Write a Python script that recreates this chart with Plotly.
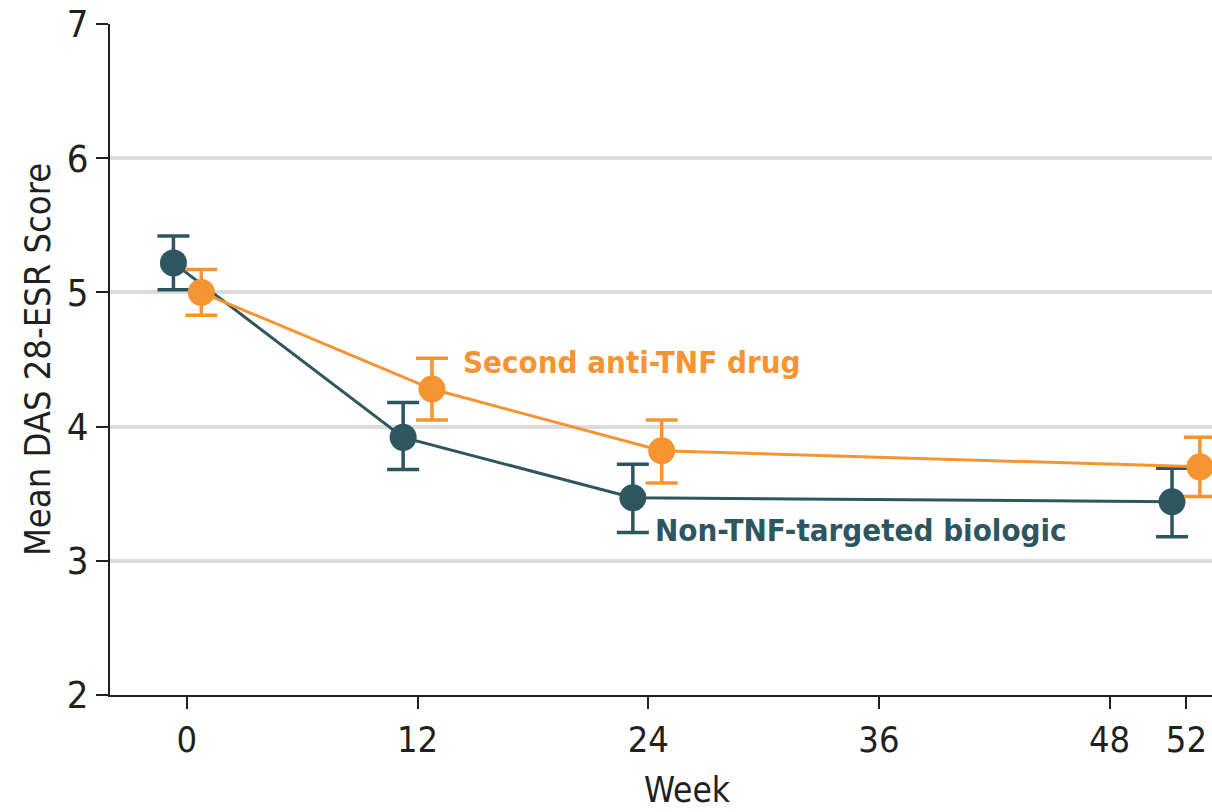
import plotly.graph_objects as go

# Non-TNF-targeted biologic (dark), plotted slightly left of each week
weeks_non_tnf = [-0.7, 11.25, 23.2, 51.25]
das_non_tnf = [5.22, 3.92, 3.47, 3.44]
err_up_non_tnf = [0.20, 0.26, 0.25, 0.25]
err_down_non_tnf = [0.20, 0.24, 0.26, 0.26]

# Second anti-TNF drug (orange), plotted slightly right of each week
weeks_anti_tnf = [0.75, 12.75, 24.7, 52.7]
das_anti_tnf = [5.00, 4.28, 3.82, 3.70]
err_up_anti_tnf = [0.17, 0.23, 0.23, 0.22]
err_down_anti_tnf = [0.17, 0.23, 0.24, 0.22]

week_ticks = [0, 12, 24, 36, 48, 52]
score_ticks = [2, 3, 4, 5, 6, 7]

DARK = '#2E5661'
ORANGE = '#F69431'
TEXT = '#231F20'
FONT = 'DejaVu Sans Condensed, Liberation Sans Narrow, sans-serif'


def series(x, y, up, down, color, name):
    return go.Scatter(
        x=x, y=y, name=name, mode='lines+markers',
        line=dict(color=color, width=3),
        marker=dict(symbol='circle', size=27, color=color),
        error_y=dict(type='data', symmetric=False, array=up, arrayminus=down,
                     color=color, thickness=3.5, width=16),
        showlegend=False, cliponaxis=False,
    )


fig = go.Figure()
fig.add_trace(series(weeks_non_tnf, das_non_tnf, err_up_non_tnf, err_down_non_tnf, DARK,
                     'Non-TNF-targeted biologic'))
fig.add_trace(series(weeks_anti_tnf, das_anti_tnf, err_up_anti_tnf, err_down_anti_tnf, ORANGE,
                     'Second anti-TNF drug'))

fig.add_annotation(x=14.25, y=4.48, text='<b>Second anti-TNF drug</b>', showarrow=False,
                   xanchor='left', yanchor='middle', font=dict(size=31, color=ORANGE, family=FONT))
fig.add_annotation(x=24.25, y=3.23, text='<b>Non-TNF-targeted biologic</b>', showarrow=False,
                   xanchor='left', yanchor='middle', font=dict(size=31, color=DARK, family=FONT))
# x-axis title sits a bit right of centre in the original
fig.add_annotation(x=0.5245, y=-0.142, xref='paper', yref='paper', text='Week', showarrow=False,
                   xanchor='center', yanchor='middle', font=dict(size=35, color=TEXT, family=FONT))

fig.update_layout(
    width=1212, height=812,
    margin=dict(l=110, r=0, t=24, b=117),
    plot_bgcolor='white', paper_bgcolor='white',
    font=dict(family=FONT, color=TEXT),
)
fig.update_xaxes(
    range=[-4.0, 53.33], tickvals=week_ticks, ticktext=[str(w) for w in week_ticks],
    showgrid=False, zeroline=False,
    showline=True, linecolor=TEXT, linewidth=2,
    ticks='outside', ticklen=12, tickwidth=2, tickcolor=TEXT,
    tickfont=dict(size=36, color=TEXT),
)
fig.update_yaxes(
    range=[2, 7], tickvals=score_ticks,
    showgrid=True, gridcolor='#DCDCDC', gridwidth=3.5, zeroline=False,
    showline=True, linecolor=TEXT, linewidth=2,
    ticks='outside', ticklen=12, tickwidth=2, tickcolor=TEXT,
    tickfont=dict(size=38, color=TEXT),
    title=dict(text='Mean DAS 28-ESR Score', font=dict(size=36, color=TEXT), standoff=5),
)

# drop the browser's default body margin so the figure fills the window
fig.write_html('out.html', config={'displayModeBar': False},
               post_script="document.body.style.margin='0';")
